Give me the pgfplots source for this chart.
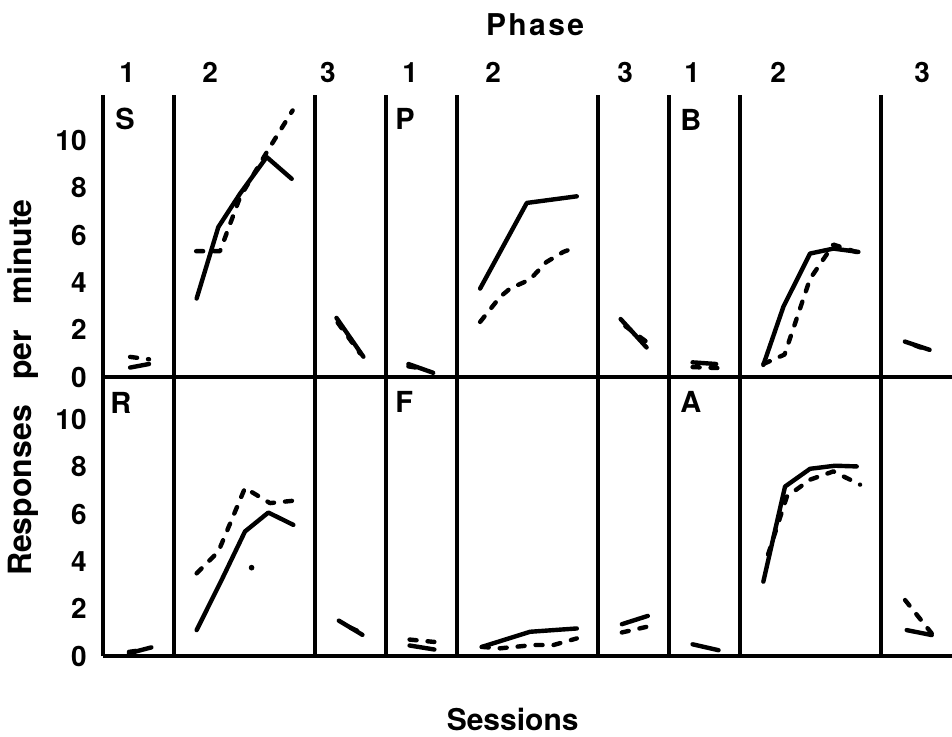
\documentclass[border=0pt]{standalone}
\usepackage{pgfplots}
\pgfplotsset{compat=1.18}
\usepackage{fontspec}
\setmainfont{TeX Gyre Heros}
\begin{document}
\begin{tikzpicture}[font=\bfseries]
\tikzset{
  subj/.style={anchor=west, inner sep=0pt, font=\bfseries\fontsize{14.5}{14.5}\selectfont},
  phs/.style={inner sep=0pt, font=\bfseries\fontsize{14}{14}\selectfont},
  sol/.style={black, line width=2.2pt, line join=round, line cap=round},
  das/.style={black, line width=2.2pt, line cap=round, line join=round, dash pattern=on 3.5pt off 5.5pt},
}
\pgfplotsset{
  panel/.style={
    x=11.79pt, y=11.825pt,
    xmin=0, xmax=36, ymin=0,
    axis x line=bottom, axis y line=left,
    axis line style={-, line width=2pt},
    xtick=\empty,
    extra x ticks={3,9,12,15,21,24,27,33},
    extra x tick labels={},
    extra x tick style={grid=major, major grid style={black, line width=2pt}, major tick length=0pt},
    ytick={0,2,4,6,8,10},
    major tick length=0pt,
    /pgf/number format/assume math mode=true,
    yticklabel style={font=\bfseries\fontsize{14}{14}\selectfont, inner sep=0pt, anchor=east, xshift=-8pt},
    clip=false,
  },
}
% ---------------- top row: S, P, B ----------------
\begin{axis}[panel, name=top, ymax=11.92]
% S
\addplot[sol] coordinates {(1.15,0.4) (1.95,0.55)};
\addplot[das] coordinates {(1.15,0.85) (1.95,0.75)};
\addplot[sol] coordinates {(3.97,3.32) (4.89,6.34) (5.81,7.75) (6.94,9.30) (8.0,8.38)};
\addplot[das] coordinates {(3.95,5.32) (4.96,5.32) (5.81,7.6) (6.94,9.5) (8.04,11.27)};
\addplot[sol] coordinates {(9.9,2.5) (11.04,0.86)};
\addplot[das] coordinates {(9.95,2.3) (10.9,1.0)};
% P
\addplot[sol] coordinates {(12.95,0.55) (14.0,0.18)};
\addplot[das] coordinates {(12.95,0.45) (13.6,0.35)};
\addplot[sol] coordinates {(15.99,3.74) (17.97,7.36) (20.09,7.64)};
\addplot[das] coordinates {(15.99,2.33) (16.84,3.39) (17.26,3.74) (18.1,4.12) (18.8,4.86) (19.52,5.29) (20.09,5.50)};
\addplot[sol] coordinates {(21.95,2.45) (23.05,1.25)};
\addplot[das] coordinates {(22.15,2.15) (23.1,1.45)};
% B
\addplot[sol] coordinates {(25.0,0.62) (26.0,0.55)};
\addplot[das] coordinates {(25.0,0.42) (26.05,0.38)};
\addplot[sol] coordinates {(28.0,0.51) (28.85,2.97) (29.98,5.22) (30.97,5.43) (32.03,5.29)};
\addplot[das] coordinates {(28.0,0.55) (28.9,0.95) (29.98,4.15) (30.97,5.6) (32.05,5.25)};
\addplot[sol] coordinates {(34.0,1.5) (35.05,1.15)};
\addplot[das] coordinates {(34.4,1.35) (35.05,1.1)};
% labels
\node[subj] at (axis cs:0.51,10.9) {S};
\node[subj] at (axis cs:12.38,10.9) {P};
\node[subj] at (axis cs:24.47,10.85) {B};
\node[phs] at (axis cs:1.02,12.87) {1};
\node[phs] at (axis cs:4.54,12.87) {2};
\node[phs] at (axis cs:9.54,12.87) {3};
\node[phs] at (axis cs:13.02,12.87) {1};
\node[phs] at (axis cs:16.54,12.87) {2};
\node[phs] at (axis cs:22.14,12.87) {3};
\node[phs] at (axis cs:24.98,12.87) {1};
\node[phs] at (axis cs:28.63,12.87) {2};
\node[phs] at (axis cs:34.73,12.87) {3};
\node[inner sep=0pt, font=\bfseries\fontsize{15}{15}\selectfont] at (axis cs:18.32,14.9) {P\kern1.2pt h\kern1.2pt a\kern1.2pt s\kern1.2pt e};
\node[inner sep=0pt, rotate=90, font=\bfseries\fontsize{16}{16}\selectfont] at (axis cs:-3.39,-0.45) {Responses\hspace{0.8em}per\hspace{0.8em}minute};
\coordinate (tl) at (axis cs:-4.368,15.94);
\end{axis}
% ---------------- bottom row: R, F, A ----------------
\begin{axis}[panel, at={(top.south west)}, anchor=north west, ymax=11.8]
% R
\addplot[sol] coordinates {(1.1,0.12) (2.05,0.37)};
\addplot[das] coordinates {(1.1,0.18) (1.6,0.25)};
\addplot[sol] coordinates {(3.97,1.10) (5.03,3.22) (6.02,5.27) (7.01,6.07) (8.07,5.55)};
\addplot[das] coordinates {(3.97,3.50) (4.89,4.42) (6.02,7.11) (7.08,6.47) (8.07,6.57)};
\addplot[only marks, mark=*, mark size=1.2pt, black] coordinates {(6.3,3.74)};
\addplot[sol] coordinates {(10.0,1.5) (11.0,0.9)};
\addplot[das] coordinates {(10.5,1.2) (11.05,0.95)};
% F
\addplot[sol] coordinates {(13.0,0.45) (14.05,0.28)};
\addplot[das] coordinates {(13.0,0.7) (14.05,0.6)};
\addplot[sol] coordinates {(16.06,0.39) (18.11,1.03) (20.09,1.17)};
\addplot[das] coordinates {(16.06,0.39) (16.84,0.33) (18.25,0.47) (19.1,0.47) (20.09,0.75)};
\addplot[sol] coordinates {(22.0,1.35) (23.1,1.7)};
\addplot[das] coordinates {(22.0,1.0) (23.1,1.25)};
% A
\addplot[sol] coordinates {(25.0,0.5) (26.1,0.25)};
\addplot[sol] coordinates {(28.0,3.15) (28.92,7.17) (29.98,7.92) (31.04,8.05) (31.96,8.02)};
\addplot[das] coordinates {(28.2,4.3) (29.0,6.75) (29.98,7.46) (30.97,7.81) (32.1,7.25)};
\addplot[das] coordinates {(34.01,2.37) (35.14,0.96)};
\addplot[sol] coordinates {(34.08,1.10) (35.14,0.89)};
% labels
\node[subj] at (axis cs:0.3,10.7) {R};
\node[subj] at (axis cs:12.38,10.75) {F};
\node[subj] at (axis cs:24.47,10.75) {A};
\node[inner sep=0pt, font=\bfseries\fontsize{15}{15}\selectfont] at (axis cs:17.37,-2.68) {Sessions};
\coordinate (br) at (axis cs:36,-3.383);
\end{axis}
\pgfresetboundingbox
\path[use as bounding box] (tl) rectangle (br);
\end{tikzpicture}
\end{document}
